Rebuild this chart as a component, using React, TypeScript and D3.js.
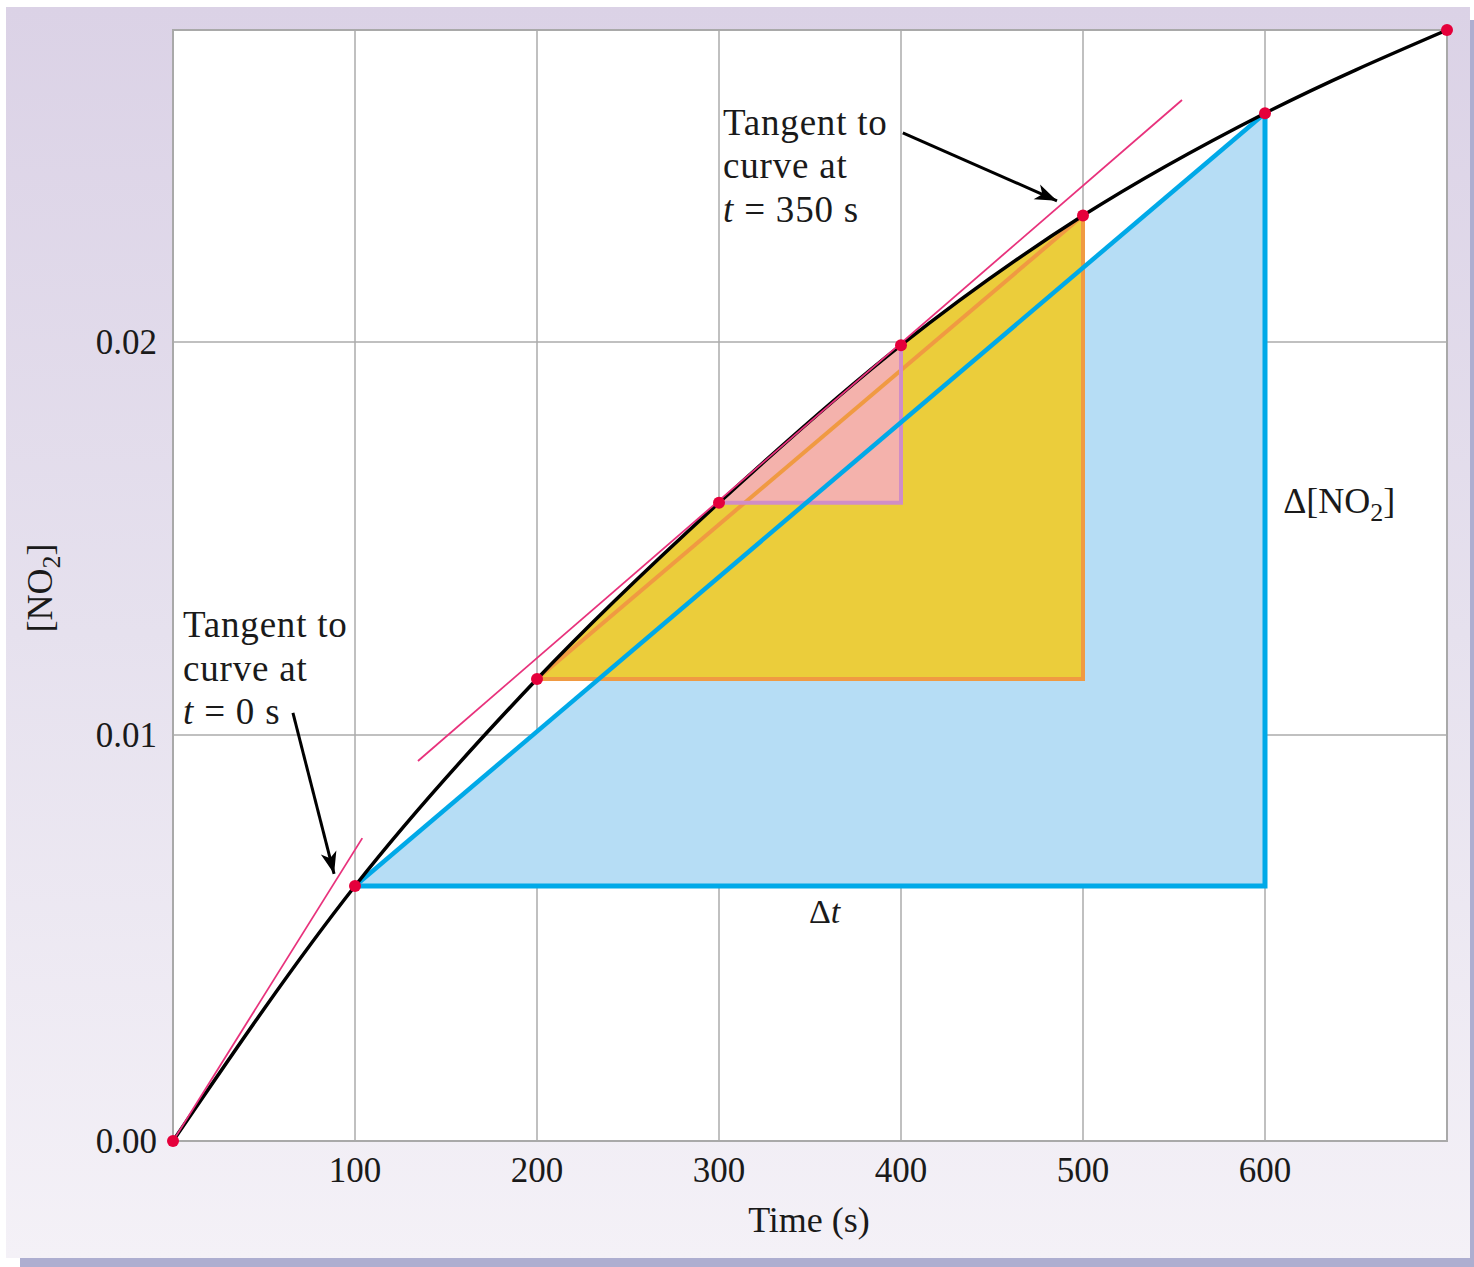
import React from 'react';
import * as d3 from 'd3';

// NO2 concentration vs time
const times = [0, 100, 200, 300, 400, 500, 600, 700];
const no2 = [0, 0.00628, 0.011425, 0.01591, 0.01992, 0.02316, 0.02572, 0.0278];

const xTicks = [100, 200, 300, 400, 500, 600];
const yTicks = [0, 0.01, 0.02];

// tangent segments [t, conc]
const tangentAt0: [number, number][] = [[0, 0], [104, 0.00746]];
const tangentAt350: [number, number][] = [[134.6, 0.00936], [554.4, 0.02605]];

// rate triangles: start / end times
const blueSpan = [100, 600];
const yellowSpan = [200, 500];
const pinkSpan = [300, 400];

// annotation arrows [t, conc] -> [t, conc]
const arrow350: [number, number][] = [[401, 0.02523], [485.7, 0.02353]];
const arrow0: [number, number][] = [[65.9, 0.01056], [88.5, 0.00658]];

const W = 1474;
const H = 1267;
const left = 173, right = 1447, top = 30, bottom = 1141;
const font = "'Liberation Serif', 'DejaVu Serif', serif";

const valueAt = (t: number) => no2[times.indexOf(t)];

const App: React.FC = () => {
  const x = d3.scaleLinear().domain([0, 700]).range([left, right]);
  // the printed axis is slightly uneven, so map each gridline where it sits
  const y = d3.scaleLinear().domain([0, 0.01, 0.02, 0.0278]).range([bottom, 735, 342, top]);

  const pts = times.map((t, i) => [t, no2[i]] as [number, number]);

  const line = d3.line<[number, number]>()
    .x(d => x(d[0]))
    .y(d => y(d[1]))
    .curve(d3.curveMonotoneX);

  const underCurve = d3.area<[number, number]>()
    .x(d => x(d[0]))
    .y0(y(0))
    .y1(d => y(d[1]))
    .curve(d3.curveMonotoneX);

  const seg = d3.line<[number, number]>().x(d => x(d[0])).y(d => y(d[1]));

  const tri = (span: number[]) => {
    const [a, b] = span;
    const va = valueAt(a), vb = valueAt(b);
    return seg([[a, va], [b, vb], [b, va]]) + 'Z';
  };
  const legs = (span: number[]) => {
    const [a, b] = span;
    const va = valueAt(a), vb = valueAt(b);
    return seg([[a, va], [b, va], [b, vb]]);
  };
  const chord = (span: number[]) => {
    const [a, b] = span;
    return seg([[a, valueAt(a)], [b, valueAt(b)]]);
  };
  const boxUnder = (span: number[]) => {
    const [a, b] = span;
    const va = valueAt(a);
    return { x: x(a), y: top, width: x(b) - x(a), height: y(va) - top };
  };

  const yb = boxUnder(yellowSpan);
  const pb = boxUnder(pinkSpan);

  return (
    <svg width={W} height={H} style={{ position: 'absolute', left: 0, top: 0, display: 'block', background: '#fff' }}>
      <defs>
        <linearGradient id="frameGrad" x1="0" y1="0" x2="0" y2="1">
          <stop offset="0" stopColor="#dbd2e6" />
          <stop offset="0.5" stopColor="#e6e1ee" />
          <stop offset="1" stopColor="#f4f1f7" />
        </linearGradient>
        <clipPath id="underCurve">
          <path d={underCurve(pts) || ''} />
        </clipPath>
        <marker id="arrowHead" viewBox="-2 -10 26 20" refX="22" refY="0"
          markerWidth="26" markerHeight="20" markerUnits="userSpaceOnUse" orient="auto">
          <path d="M0,-8 L22,0 L0,8 L6,0 Z" fill="#000" />
        </marker>
      </defs>

      {/* frame with shadow */}
      <rect x={20} y={20} width={W - 20} height={H - 20} fill="#adaed0" />
      <rect x={6} y={7} width={1464} height={1251} fill="url(#frameGrad)" />

      {/* plot area */}
      <rect x={left} y={top} width={right - left} height={bottom - top} fill="#fff" />
      <g stroke="#ababab" strokeWidth={1.5}>
        {xTicks.map(t => (
          <line key={t} x1={x(t)} x2={x(t)} y1={top} y2={bottom} />
        ))}
        {yTicks.filter(v => v > 0).map(v => (
          <line key={v} x1={left} x2={right} y1={y(v)} y2={y(v)} />
        ))}
      </g>
      <rect x={left} y={top} width={right - left} height={bottom - top} fill="none" stroke="#a9a9a9" strokeWidth={2} />

      {/* triangles: fills */}
      <path d={tri(blueSpan)} fill="#b6ddf5" />
      <rect {...yb} fill="#ebcd3b" clipPath="url(#underCurve)" />
      <rect {...pb} fill="#f4b2ac" clipPath="url(#underCurve)" />

      {/* triangles: edges */}
      <path d={chord(yellowSpan) || ''} fill="none" stroke="#f09a42" strokeWidth={4} />
      <path d={legs(yellowSpan) || ''} fill="none" stroke="#f09a42" strokeWidth={4} />
      <path d={legs(pinkSpan) || ''} fill="none" stroke="#d08dc6" strokeWidth={4} />
      <path d={chord(blueSpan) || ''} fill="none" stroke="#00a9e8" strokeWidth={4.5} />
      <path d={legs(blueSpan) || ''} fill="none" stroke="#00a9e8" strokeWidth={5} />

      {/* curve */}
      <path d={line(pts) || ''} fill="none" stroke="#000" strokeWidth={3.5} />

      {/* tangents */}
      <path d={seg(tangentAt0) || ''} stroke="#e8327c" strokeWidth={1.8} fill="none" />
      <path d={seg(tangentAt350) || ''} stroke="#e8327c" strokeWidth={1.8} fill="none" />

      {/* points */}
      {pts.map(p => (
        <circle key={p[0]} cx={x(p[0])} cy={y(p[1])} r={6} fill="#e5003b" />
      ))}

      {/* arrows */}
      <path d={seg(arrow350) || ''} stroke="#000" strokeWidth={3} fill="none" markerEnd="url(#arrowHead)" />
      <path d={seg(arrow0) || ''} stroke="#000" strokeWidth={3} fill="none" markerEnd="url(#arrowHead)" />

      {/* tick labels */}
      <g fontFamily={font} fontSize={35} fill="#1a1a1a">
        {xTicks.map(t => (
          <text key={t} x={x(t)} y={bottom + 41} textAnchor="middle">{t}</text>
        ))}
        {yTicks.map(v => (
          <text key={v} x={left - 16} y={y(v) + 12} textAnchor="end">{d3.format('.2f')(v)}</text>
        ))}
      </g>

      {/* axis titles */}
      <g fontFamily={font} fontSize={36} fill="#1a1a1a">
        <text x={(left + right) / 2 - 1} y={1232} textAnchor="middle">Time (s)</text>
        <text transform="translate(52,588) rotate(-90)" textAnchor="middle">
          [NO<tspan fontSize={26} dy={8}>2</tspan><tspan dy={-8}>]</tspan>
        </text>
      </g>

      {/* annotations */}
      <g fontFamily={font} fontSize={37} fill="#1a1a1a">
        <text x={x(302.2)} y={135} letterSpacing={0.8}>
          <tspan x={x(302.2)} dy={0}>Tangent to</tspan>
          <tspan x={x(302.2)} dy={43}>curve at</tspan>
          <tspan x={x(302.2)} dy={44}><tspan fontStyle="italic">t</tspan> = 350 s</tspan>
        </text>
        <text x={x(5.5)} y={637} letterSpacing={0.8}>
          <tspan x={x(5.5)} dy={0}>Tangent to</tspan>
          <tspan x={x(5.5)} dy={44}>curve at</tspan>
          <tspan x={x(5.5)} dy={43}><tspan fontStyle="italic">t</tspan> = 0 s</tspan>
        </text>
        <text x={x(610)} y={513} fontSize={36}>
          Δ[NO<tspan fontSize={26} dy={8}>2</tspan><tspan dy={-8}>]</tspan>
        </text>
        <text x={x(358)} y={y(valueAt(100)) + 37} fontSize={34} textAnchor="middle">
          Δ<tspan fontStyle="italic">t</tspan>
        </text>
      </g>
    </svg>
  );
};

export default App;
